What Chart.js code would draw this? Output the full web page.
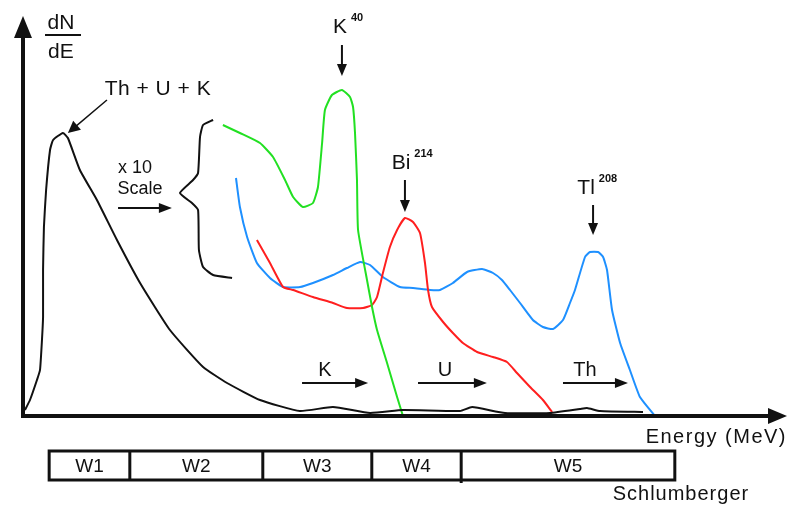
<!DOCTYPE html>
<html>
<head>
<meta charset="utf-8">
<script src="https://cdn.jsdelivr.net/npm/chart.js@4/dist/chart.umd.min.js"></script>
<style>
  html, body { margin: 0; padding: 0; background: #fff; }
  canvas { display: block; }
</style>
</head>
<body>
<canvas id="spectrum" width="788" height="509"></canvas>
<script>
// energy in MeV, counts in arbitrary units (0..100)
const TOTAL_E = [0.009, 0.032, 0.064, 0.078, 0.087, 0.092, 0.092, 0.096, 0.106, 0.124, 0.138, 0.183, 0.206, 0.261, 0.339, 0.431, 0.537, 0.674, 0.826, 0.936, 1.087, 1.27, 1.422, 1.592, 1.743, 2.005, 2.06, 2.211, 2.417, 2.555, 2.587, 2.647, 2.844];
const TOTAL_N = [1.5, 4, 9, 11.5, 19, 24.75, 36.5, 47.25, 56.5, 66.5, 69, 70.75, 69.5, 61.5, 54, 44, 33.25, 21.5, 12.25, 8.25, 4, 1.25, 2.25, 0.75, 1.5, 1.25, 2.25, 0.75, 0.75, 1.75, 2, 1.25, 1];

const K_E = [0.917, 0.995, 1.087, 1.147, 1.202, 1.239, 1.284, 1.330, 1.353, 1.372, 1.385, 1.417, 1.463, 1.5, 1.514, 1.523, 1.532, 1.537, 1.578, 1.601, 1.624, 1.670, 1.716, 1.743];
const K_N = [72.75, 70.75, 68.25, 64.75, 59, 54.75, 52.25, 53.25, 57.25, 68.25, 76.5, 80.25, 81.5, 79.75, 77.25, 70.75, 59, 46.5, 34, 27.25, 21.5, 13.25, 4.75, 0];

const U_E = [1.073, 1.133, 1.193, 1.239, 1.330, 1.422, 1.486, 1.560, 1.601, 1.624, 1.651, 1.683, 1.716, 1.752, 1.789, 1.821, 1.844, 1.858, 1.876, 1.927, 1.972, 2.018, 2.083, 2.156, 2.220, 2.266, 2.326, 2.385, 2.427];
const U_N = [44, 38.25, 32.25, 31.5, 29.75, 28.25, 27, 27, 27.75, 29.75, 35.75, 42.25, 46.5, 49.5, 48.5, 45.75, 38.25, 31.5, 27.25, 23.5, 20.75, 18.25, 16, 14.75, 13.5, 10.75, 7.25, 4, 1];

const TH_E = [0.977, 0.995, 1.028, 1.073, 1.133, 1.193, 1.271, 1.330, 1.422, 1.486, 1.546, 1.592, 1.651, 1.729, 1.789, 1.867, 1.913, 1.972, 2.037, 2.106, 2.156, 2.197, 2.234, 2.280, 2.339, 2.385, 2.431, 2.477, 2.509, 2.532, 2.578, 2.601, 2.638, 2.661, 2.679, 2.702, 2.739, 2.784, 2.830, 2.899];
const TH_N = [59.5, 52.25, 44.75, 38.25, 34.5, 32.25, 32.25, 33.25, 35.25, 37, 38.5, 37.75, 34.75, 32.25, 32, 31.5, 31.5, 33.25, 36, 36.75, 35.75, 34, 31.5, 28.25, 24, 22.25, 21.75, 24, 28.25, 31.5, 39.75, 41, 41, 39.75, 36.5, 26.5, 18.25, 11.5, 4.75, 0];

// "x 10 scale" brace
const BRACE_E = [0.872, 0.826, 0.812, 0.803, 0.780, 0.720, 0.775, 0.803, 0.807, 0.826, 0.872, 0.959];
const BRACE_N = [74, 72.75, 69.75, 60.75, 59, 55.75, 53.25, 51.5, 41.5, 37.25, 35.25, 34.5];

// NGS energy windows (MeV)
const WINDOW_LABELS = ["W1", "W2", "W3", "W4", "W5"];
const WINDOW_EDGES = [0.12, 0.49, 1.1, 1.6, 2.01, 2.99];

const INK = "#111";
const FONT = '"Liberation Sans", Arial, sans-serif';

function pts(xs, ys) {
  return xs.map((x, i) => ({ x: x, y: ys[i] }));
}

function line(label, xs, ys, color) {
  return {
    label: label,
    data: pts(xs, ys),
    showLine: true,
    borderColor: color,
    borderWidth: 2,
    pointRadius: 0,
    tension: 0.15,
    fill: false
  };
}

function arrow(ctx, x1, y1, x2, y2, head, half, width) {
  const a = Math.atan2(y2 - y1, x2 - x1);
  ctx.lineWidth = width;
  ctx.beginPath();
  ctx.moveTo(x1, y1);
  ctx.lineTo(x2 - Math.cos(a) * head * 0.6, y2 - Math.sin(a) * head * 0.6);
  ctx.stroke();
  ctx.beginPath();
  ctx.moveTo(x2, y2);
  ctx.lineTo(x2 - Math.cos(a) * head - Math.sin(a) * half, y2 - Math.sin(a) * head + Math.cos(a) * half);
  ctx.lineTo(x2 - Math.cos(a) * head + Math.sin(a) * half, y2 - Math.sin(a) * head - Math.cos(a) * half);
  ctx.closePath();
  ctx.fill();
}

const decorations = {
  id: 'decorations',
  afterDraw(chart) {
    const ctx = chart.ctx;
    const area = chart.chartArea;
    const X = v => chart.scales.x.getPixelForValue(v);
    const Y = v => chart.scales.y.getPixelForValue(v);
    ctx.save();
    ctx.strokeStyle = INK;
    ctx.fillStyle = INK;
    ctx.lineCap = 'butt';

    // axes
    ctx.lineWidth = 4;
    ctx.beginPath();
    ctx.moveTo(area.left, area.bottom + 2);
    ctx.lineTo(area.left, area.top + 18);
    ctx.stroke();
    ctx.beginPath();
    ctx.moveTo(area.left - 9, area.top + 22);
    ctx.lineTo(area.left, area.top);
    ctx.lineTo(area.left + 9, area.top + 22);
    ctx.closePath();
    ctx.fill();

    ctx.beginPath();
    ctx.moveTo(area.left - 2, area.bottom);
    ctx.lineTo(area.right - 16, area.bottom);
    ctx.stroke();
    ctx.beginPath();
    ctx.moveTo(area.right - 18, area.bottom - 8);
    ctx.lineTo(area.right + 1, area.bottom);
    ctx.lineTo(area.right - 18, area.bottom + 8);
    ctx.closePath();
    ctx.fill();

    // texts
    ctx.textBaseline = 'middle';
    ctx.textAlign = 'center';
    ctx.font = '21px ' + FONT;
    ctx.fillText('dN', X(0.174), Y(98.25));
    ctx.fillText('dE', X(0.174), Y(91));
    ctx.lineWidth = 2;
    ctx.beginPath();
    ctx.moveTo(X(0.101), Y(95.25));
    ctx.lineTo(X(0.266), Y(95.25));
    ctx.stroke();

    ctx.font = '21px ' + FONT;
    ctx.letterSpacing = '0.5px';
    ctx.fillText('Th + U + K', X(0.619), Y(81.75));
    ctx.letterSpacing = '0px';
    arrow(ctx, X(0.385), Y(79), X(0.206), Y(70.75), 12, 6, 1.5);

    ctx.font = '18px ' + FONT;
    ctx.fillText('x 10', X(0.514), Y(62));
    ctx.fillText('Scale', X(0.537), Y(56.75));
    arrow(ctx, X(0.436), Y(52), X(0.683), Y(52), 13, 5, 2);

    // peak labels with superscripts
    const peaks = [
      ['K', '40', 1.454, 97.25, 1.463, 92.75, 85],
      ['Bi', '214', 1.734, 63.25, 1.752, 59, 51],
      ['Tl', '208', 2.583, 57, 2.615, 52.75, 45.25]
    ];
    peaks.forEach(p => {
      ctx.font = '21px ' + FONT;
      ctx.textAlign = 'center';
      ctx.fillText(p[0], X(p[2]), Y(p[3]));
      const w = ctx.measureText(p[0]).width;
      ctx.font = 'bold 11px ' + FONT;
      ctx.textAlign = 'left';
      ctx.fillText(p[1], X(p[2]) + w / 2 + 4, Y(p[3]) - 9);
      arrow(ctx, X(p[4]), Y(p[5]), X(p[4]), Y(p[6]), 12, 5, 2);
    });

    // window arrows
    ctx.textAlign = 'center';
    const bands = [['K', 1.385, 1.28, 1.583], ['U', 1.936, 1.812, 2.128], ['Th', 2.578, 2.477, 2.775]];
    bands.forEach(b => {
      ctx.font = '20px ' + FONT;
      ctx.fillText(b[0], X(b[1]), Y(11.5));
      arrow(ctx, X(b[2]), Y(8.25), X(b[3]), Y(8.25), 13, 5, 2);
    });

    // axis title
    ctx.font = '20px ' + FONT;
    ctx.textAlign = 'right';
    ctx.letterSpacing = '1.5px';
    ctx.fillText('Energy (MeV)', area.right + 1, area.bottom + 21);
    ctx.letterSpacing = '0px';

    // window boxes
    const top = area.bottom + 35, bot = area.bottom + 64;
    ctx.lineWidth = 3;
    ctx.strokeRect(X(WINDOW_EDGES[0]), top, X(WINDOW_EDGES[WINDOW_EDGES.length - 1]) - X(WINDOW_EDGES[0]), bot - top);
    ctx.font = '19px ' + FONT;
    ctx.textAlign = 'center';
    WINDOW_LABELS.forEach((lab, i) => {
      if (i > 0) {
        ctx.beginPath();
        ctx.moveTo(X(WINDOW_EDGES[i]), top);
        ctx.lineTo(X(WINDOW_EDGES[i]), bot + (i === 4 ? 3 : 0));
        ctx.stroke();
      }
      ctx.fillText(lab, (X(WINDOW_EDGES[i]) + X(WINDOW_EDGES[i + 1])) / 2, (top + bot) / 2 + 1);
    });

    ctx.font = '20px ' + FONT;
    ctx.letterSpacing = '1px';
    ctx.fillText('Schlumberger', X(3.018), area.bottom + 78);
    ctx.letterSpacing = '0px';
    ctx.restore();
  }
};

new Chart(document.getElementById('spectrum'), {
  type: 'scatter',
  data: {
    datasets: [
      line('Th + U + K', TOTAL_E, TOTAL_N, '#111111'),
      line('brace', BRACE_E, BRACE_N, '#111111'),
      line('K40', K_E, K_N, '#22e022'),
      line('Bi214', U_E, U_N, '#ff1f1f'),
      line('Tl208', TH_E, TH_N, '#1e90ff')
    ]
  },
  options: {
    responsive: false,
    animation: false,
    devicePixelRatio: 1,
    layout: {
      padding: { left: 23, top: 16, right: 2, bottom: 93 }
    },
    scales: {
      x: { type: 'linear', min: 0, max: 3.5, display: false },
      y: { type: 'linear', min: 0, max: 100, display: false }
    },
    plugins: {
      legend: { display: false },
      tooltip: { enabled: false }
    }
  },
  plugins: [decorations]
});
</script>
</body>
</html>
